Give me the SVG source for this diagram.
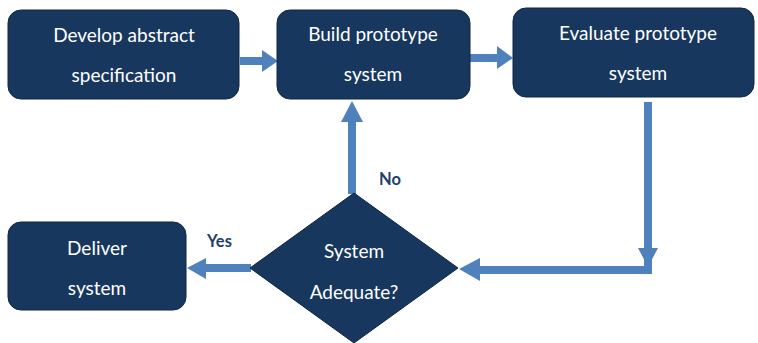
<svg xmlns="http://www.w3.org/2000/svg" width="758" height="343" viewBox="0 0 758 343">
  <style>
    .node { fill: #17375e; stroke: #0f2744; stroke-width: 1; }
    .label { fill: #ffffff; font-family: Lato, "Open Sans", "Liberation Sans", sans-serif; font-size: 19px; text-anchor: middle; }
    .tag { fill: #1f3f6b; font-family: Lato, "Open Sans", "Liberation Sans", sans-serif; font-size: 16.5px; font-weight: bold; }
    .shaft { fill: none; stroke: #4f81bd; stroke-width: 8; }
    .head { fill: #4f81bd; }
  </style>
  <rect width="758" height="343" fill="#ffffff"/>

  <g id="connectors">
    <!-- specification -> build -->
    <line class="shaft" x1="240" y1="61" x2="262" y2="61"/>
    <polygon class="head" points="262,50 278,61 262,72"/>
    <!-- build -> evaluate -->
    <line class="shaft" x1="470" y1="58" x2="497" y2="58"/>
    <polygon class="head" points="497,46 513,58 497,69"/>
    <!-- evaluate -> decision -->
    <polyline class="shaft" points="648,102 648,270 478,270"/>
    <polygon class="head" points="638,248 658,248 648,267"/>
    <polygon class="head" points="480,258 480,281 459,269"/>
    <!-- decision -> build (No) -->
    <line class="shaft" x1="352" y1="194" x2="352" y2="120"/>
    <polygon class="head" points="341,122 363,122 352,101"/>
    <!-- decision -> deliver (Yes) -->
    <line class="shaft" x1="251" y1="268" x2="205" y2="268"/>
    <polygon class="head" points="206,258 206,279 187,268"/>
    <text class="tag" x="379" y="185">No</text>
    <text class="tag" x="207" y="247">Yes</text>
  </g>

  <g id="develop">
    <rect class="node" x="8" y="10" width="231" height="89" rx="13"/>
    <text class="label" x="124" y="42">Develop abstract</text>
    <text class="label" x="124" y="82">specification</text>
  </g>

  <g id="build">
    <rect class="node" x="277" y="10" width="193" height="89" rx="13"/>
    <text class="label" x="373" y="41">Build prototype</text>
    <text class="label" x="373" y="81">system</text>
  </g>

  <g id="evaluate">
    <rect class="node" x="513" y="8" width="241" height="89" rx="13"/>
    <text class="label" x="638" y="40">Evaluate prototype</text>
    <text class="label" x="638" y="80">system</text>
  </g>

  <g id="decision">
    <polygon class="node" points="354,193 458,268 354,343 250,268"/>
    <text class="label" x="354" y="258">System</text>
    <text class="label" x="354" y="299">Adequate?</text>
  </g>

  <g id="deliver">
    <rect class="node" x="8" y="222" width="178" height="88" rx="13"/>
    <text class="label" x="97" y="255">Deliver</text>
    <text class="label" x="97" y="295">system</text>
  </g>
</svg>
